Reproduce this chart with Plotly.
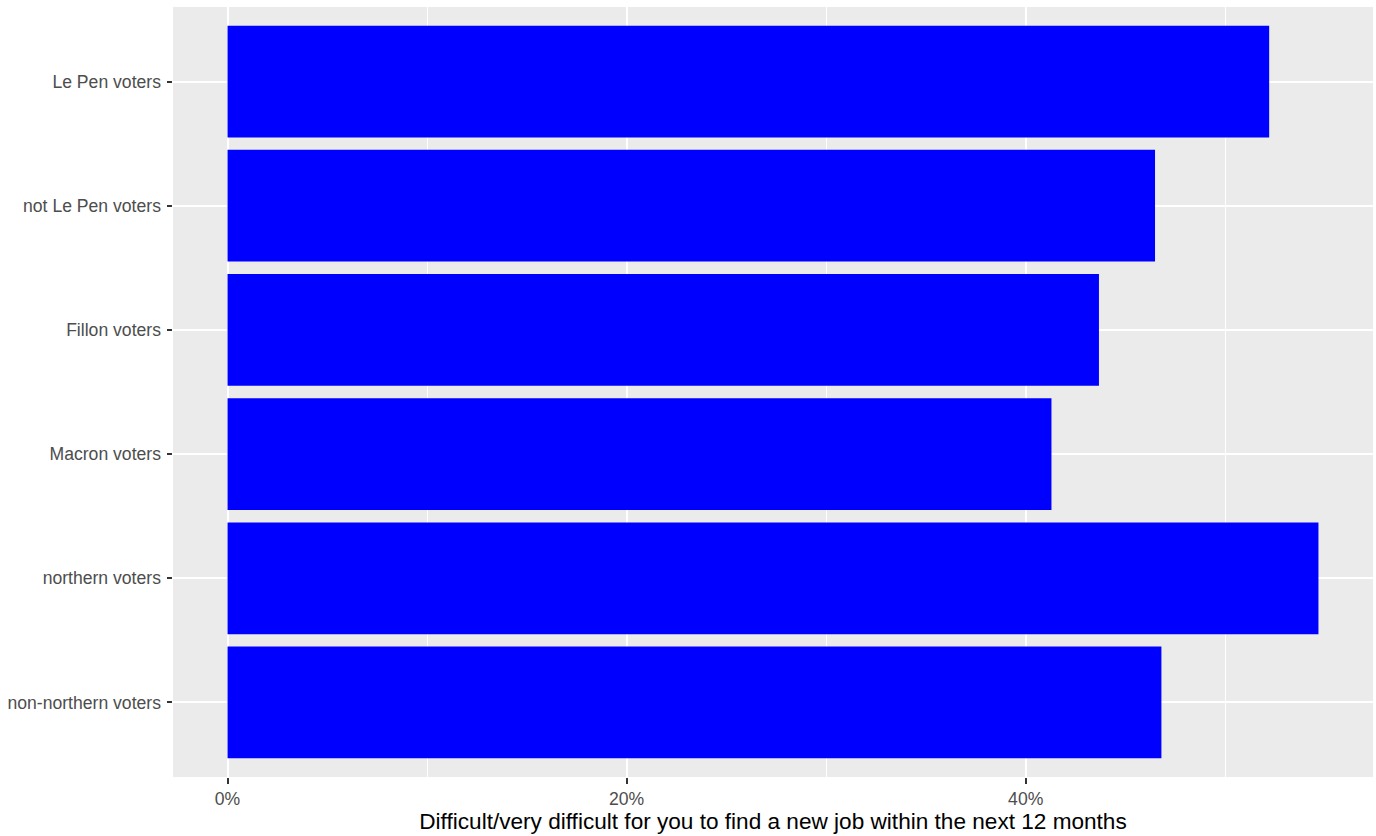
import plotly.graph_objects as go

categories = ["non-northern voters", "northern voters", "Macron voters",
              "Fillon voters", "not Le Pen voters", "Le Pen voters"]
values = [0.4680, 0.5467, 0.4129, 0.4367, 0.4648, 0.5220]
tick_vals = [0.0, 0.2, 0.4]
tick_text = ["0%", "20%", "40%"]
minor_vals = [0.1, 0.3, 0.5]
x_title = "Difficult/very difficult for you to find a new job within the next 12 months"

fig = go.Figure()
fig.add_trace(go.Bar(
    x=values, y=categories, orientation="h",
    marker=dict(color="#0000FF", line=dict(width=0)),
    width=0.9, showlegend=False,
))

vmax = max(values)
pad = vmax * 0.05

fig.update_layout(
    width=1376, height=836,
    margin=dict(l=173, r=3, t=7, b=59),
    paper_bgcolor="white",
    plot_bgcolor="#EBEBEB",
    font=dict(family="Liberation Sans, Arial, sans-serif", color="#4D4D4D", size=17.6),
)
fig.update_xaxes(
    range=[-pad, vmax + pad],
    tickvals=tick_vals, ticktext=tick_text,
    showgrid=True, gridcolor="white", gridwidth=2,
    zeroline=False, showline=False,
    ticks="outside", ticklen=5.5, tickwidth=1.6, tickcolor="#333333",
    tickfont=dict(size=17.6, color="#4D4D4D"),
    minor=dict(tickvals=minor_vals, showgrid=True, gridcolor="white", gridwidth=1),
    title=dict(text=x_title, font=dict(size=22.6, color="black"), standoff=3),
)
fig.update_yaxes(
    type="category", categoryorder="array", categoryarray=categories,
    range=[-0.6, len(categories) - 0.4],
    showgrid=True, gridcolor="white", gridwidth=2,
    zeroline=False, showline=False,
    ticks="outside", ticklen=5.5, tickwidth=1.6, tickcolor="#333333",
    tickfont=dict(size=17.6, color="#4D4D4D"),
    ticklabelstandoff=2,
)

fig.write_html("out.html", config={"displayModeBar": False},
               post_script="document.body.style.margin='0';document.body.style.padding='0';")
